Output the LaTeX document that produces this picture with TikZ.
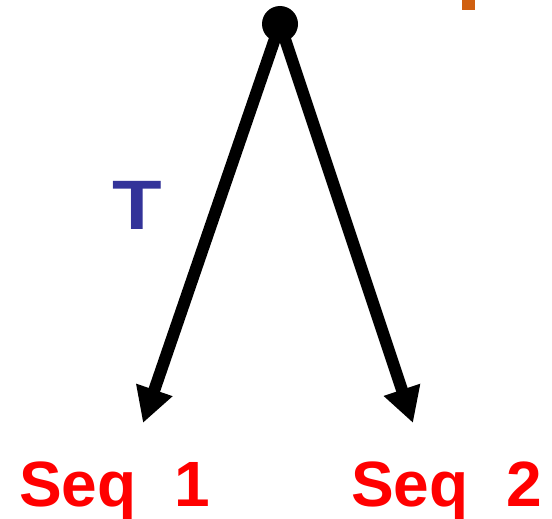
\documentclass[tikz,border=0pt]{standalone}
\usepackage{fontspec}
\setmainfont{Liberation Sans}
\usetikzlibrary{arrows.meta}
\definecolor{seqred}{RGB}{255,0,0}
\definecolor{tblue}{RGB}{51,51,153}
\definecolor{markorange}{RGB}{208,96,16}
\tikzset{
  branch/.style={line width=12pt, -{Triangle[length=35pt,width=36pt]}},
  seqlabel/.style={anchor=base west, inner sep=0pt, text=seqred,
    font=\fontsize{64}{70}\selectfont\bfseries},
  tlabel/.style={anchor=base west, inner sep=0pt, text=tblue,
    font=\fontsize{70}{76}\selectfont\bfseries, xscale=1.16},
}
\begin{document}
\begin{tikzpicture}[x=1pt,y=-1pt]
  \useasboundingbox (0,0) rectangle (552,519);
  % root of the tree
  \fill (280,24) circle (18);
  \coordinate (root) at (280,24);
  \coordinate (leaf1) at (143,423);
  \coordinate (leaf2) at (413,423);
  % branches
  \draw[branch] (root) -- (leaf1);
  \draw[branch] (root) -- (leaf2);
  % labels
  \node[tlabel] (t) at (112,229) {T};
  \node[seqlabel] (s1) at (19,506) {Seq\hspace{38pt}1};
  \node[seqlabel] (s2) at (351,506) {Seq\hspace{38pt}2};
  % small orange mark at the top edge
  \fill[markorange] (462,0) rectangle (475,10);
\end{tikzpicture}
\end{document}
